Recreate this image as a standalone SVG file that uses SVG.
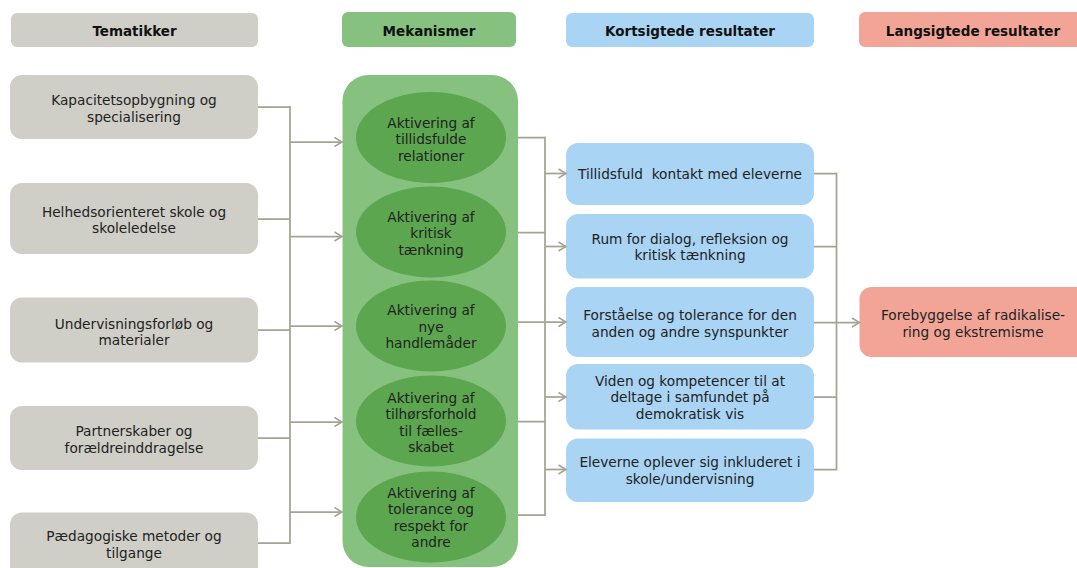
<svg xmlns="http://www.w3.org/2000/svg" width="1077" height="568" viewBox="0 0 1077 568">
<style>
text{font-family:"DejaVu Sans",Verdana,sans-serif;font-size:13.7px;fill:#222;text-anchor:middle}
.h{font-weight:bold;fill:#111;font-size:13.5px}
.gray{fill:#cfcfc7}
.lg{fill:#86c17f}
.dg{fill:#5ba64f}
.blue{fill:#a9d4f4}
.red{fill:#f2a597}
.c{fill:none;stroke:#a5a394;stroke-width:1.75}
.a{marker-end:url(#arr)}
</style>
<defs>
<marker id="arr" markerUnits="userSpaceOnUse" markerWidth="12" markerHeight="12" refX="9" refY="6" orient="auto">
<path d="M1.5,1.5 L9,6 L1.5,10.5" fill="none" stroke="#a5a394" stroke-width="1.5"/>
</marker>
</defs>
<g id="headers">
<g id="h-tematikker"><rect class="gray" x="11" y="13" width="247" height="34" rx="6"/><text class="h" x="134.5" y="35.5">Tematikker</text></g>
<g id="h-mekanismer"><rect class="lg" x="342" y="12" width="174" height="35" rx="6"/><text class="h" x="429" y="35.5">Mekanismer</text></g>
<g id="h-kort"><rect class="blue" x="566" y="13" width="248" height="34" rx="6"/><text class="h" x="690" y="35.5">Kortsigtede resultater</text></g>
<g id="h-lang"><rect class="red" x="859" y="12" width="228" height="35" rx="6"/><text class="h" x="973" y="35.5">Langsigtede resultater</text></g>
</g>
<g id="t1"><rect class="gray" x="10" y="75" width="248" height="64" rx="12"/><text x="134" y="104.5">Kapacitetsopbygning og</text><text x="134" y="121.5">specialisering</text></g>
<g id="t2"><rect class="gray" x="10" y="183" width="248" height="71" rx="12"/><text x="134" y="216.5">Helhedsorienteret skole og</text><text x="134" y="233">skoleledelse</text></g>
<g id="t3"><rect class="gray" x="10" y="297.5" width="248" height="65" rx="12"/><text x="134" y="328.5">Undervisningsforløb og</text><text x="134" y="345">materialer</text></g>
<g id="t4"><rect class="gray" x="10" y="406" width="248" height="64" rx="12"/><text x="134" y="436">Partnerskaber og</text><text x="134" y="452.5">forældreinddragelse</text></g>
<g id="t5"><rect class="gray" x="10" y="512.5" width="248" height="70" rx="12"/><text x="134" y="541">Pædagogiske metoder og</text><text x="134" y="558">tilgange</text></g>
<g id="mekanismer">
<rect class="lg" x="342.5" y="75" width="175.5" height="492" rx="26"/>
<g id="m1"><ellipse class="dg" cx="431" cy="137.5" rx="75" ry="45.5"/><text x="431" y="127.5">Aktivering af</text><text x="431" y="144">tillidsfulde</text><text x="431" y="160.5">relationer</text></g>
<g id="m2"><ellipse class="dg" cx="431" cy="232" rx="75" ry="45.5"/><text x="431" y="221.5">Aktivering af</text><text x="431" y="238">kritisk</text><text x="431" y="254.5">tænkning</text></g>
<g id="m3"><ellipse class="dg" cx="431" cy="326" rx="75" ry="45.5"/><text x="431" y="315">Aktivering af</text><text x="431" y="331.5">nye</text><text x="431" y="348">handlemåder</text></g>
<g id="m4"><ellipse class="dg" cx="431" cy="421" rx="75" ry="45.5"/><text x="431" y="402.5">Aktivering af</text><text x="431" y="419">tilhørsforhold</text><text x="431" y="435.5">til fælles-</text><text x="431" y="452">skabet</text></g>
<g id="m5"><ellipse class="dg" cx="431" cy="517" rx="75" ry="45.5"/><text x="431" y="497.5">Aktivering af</text><text x="431" y="514">tolerance og</text><text x="431" y="530.5">respekt for</text><text x="431" y="547">andre</text></g>
</g>
<g id="k1"><rect class="blue" x="566" y="143" width="248" height="62" rx="12"/><text x="690" y="178.5" style="white-space:pre">Tillidsfuld  kontakt med eleverne</text></g>
<g id="k2"><rect class="blue" x="566" y="214" width="248" height="64.5" rx="12"/><text x="690" y="243.5">Rum for dialog, refleksion og</text><text x="690" y="260">kritisk tænkning</text></g>
<g id="k3"><rect class="blue" x="566" y="287" width="248" height="70" rx="12"/><text x="690" y="319.5">Forståelse og tolerance for den</text><text x="690" y="336.5">anden og andre synspunkter</text></g>
<g id="k4"><rect class="blue" x="566" y="364" width="248" height="65.5" rx="12"/><text x="690" y="385.5">Viden og kompetencer til at</text><text x="690" y="402">deltage i samfundet på</text><text x="690" y="418.5">demokratisk vis</text></g>
<g id="k5"><rect class="blue" x="566" y="438.5" width="248" height="63.5" rx="12"/><text x="690" y="467">Eleverne oplever sig inkluderet i</text><text x="690" y="483.5">skole/undervisning</text></g>
<g id="l1"><rect class="red" x="859.5" y="287" width="228" height="70" rx="12"/><text x="973" y="319.5">Forebyggelse af radikalise-</text><text x="973" y="337">ring og ekstremisme</text></g>
<g id="connectors">
<path class="c" d="M258,107H290M258,219H290M258,330H290M258,438H290M258,543H290M290,106.1V543.9"/>
<path class="c a" d="M290,142H342"/>
<path class="c a" d="M290,236.5H342"/>
<path class="c a" d="M290,326H342"/>
<path class="c a" d="M290,422H342"/>
<path class="c a" d="M290,512H342"/>
<path class="c" d="M518,137.5H545M518,232.5H545M518,421.5H545M518,515H545M545,136.6V515.9"/>
<path class="c a" d="M545,173.5H566"/>
<path class="c a" d="M545,246.5H566"/>
<path class="c a" d="M518,322H566"/>
<path class="c a" d="M545,397H566"/>
<path class="c a" d="M545,469.5H566"/>
<path class="c" d="M814,173.5H836.5M814,246.5H836.5M814,397H836.5M814,469.5H836.5M836.5,172.6V470.4"/>
<path class="c a" d="M814,322.5H859.5"/>
</g>
</svg>
